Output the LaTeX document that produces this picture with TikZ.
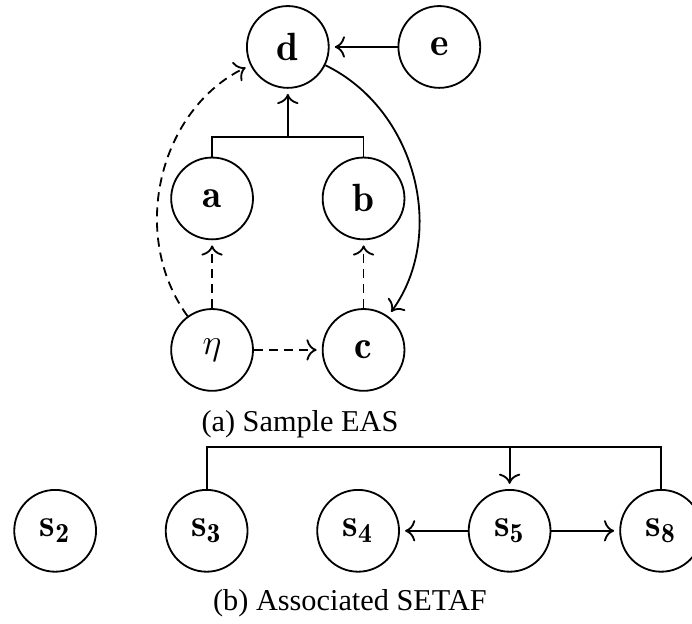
\documentclass[tikz,border=0pt]{standalone}
\usepackage{amsmath}
\usepackage{fontspec}
\newfontfamily\capfont{Liberation Serif}
\usetikzlibrary{arrows.meta,positioning}
\tikzset{
  argnode/.style={circle, draw=black, line width=0.6pt, minimum size=27pt,
    inner sep=0pt, font=\fontsize{13}{15}\selectfont},
  attarrow/.style={-{To[scale=1.15]}, line width=0.6pt, shorten >=1.7pt},
  supparrow/.style={attarrow, dash pattern=on 3pt off 2pt},
  joinline/.style={line width=0.6pt},
  subcaption/.style={font=\capfont\normalsize, inner sep=0pt}
}

\begin{document}
\begin{tikzpicture}[node distance=50pt, on grid]
  \useasboundingbox (0,0) rectangle (228.4pt,-205.9pt);
  % (a) Sample EAS
  \node[argnode] (d) at (95pt,-15.5pt) {$\mathbf{d}$};
  \node[argnode, right=of d] (e) {$\mathbf{e}$};
  \node[argnode, below left=50pt and 25pt of d] (a) {$\mathbf{a}$};
  \node[argnode, below right=50pt and 25pt of d] (b) {$\mathbf{b}$};
  \node[argnode, below=of a] (eta) {$\eta$};
  \node[argnode, below=of b] (c) {$\mathbf{c}$};
  \coordinate[below=29.7pt of d] (jab);
  \draw[attarrow] (e) -- (d);
  \draw[joinline] (a) |- (jab) -| (b);
  \draw[attarrow] (jab) -- (d);
  \draw[supparrow] (eta) -- (a);
  \draw[supparrow] (c) -- (b);
  \draw[supparrow] (eta) -- (c);
  \draw[supparrow] (eta) to[bend left=50] (d);
  \draw[attarrow] (d) to[bend left=50] (c);
  \node[subcaption] (capa) at (99pt,-140pt) {(a) Sample EAS};
  % (b) Associated SETAF
  \node[argnode] (s2) at (18.2pt,-175.2pt) {$\mathbf{s_2}$};
  \node[argnode, right=of s2] (s3) {$\mathbf{s_3}$};
  \node[argnode, right=of s3] (s4) {$\mathbf{s_4}$};
  \node[argnode, right=of s4] (s5) {$\mathbf{s_5}$};
  \node[argnode, right=of s5] (s8) {$\mathbf{s_8}$};
  \coordinate[above=27.7pt of s5] (j38);
  \draw[joinline] (s3) |- (j38) -| (s8);
  \draw[attarrow] (j38) -- (s5);
  \draw[attarrow] (s5) -- (s4);
  \draw[attarrow] (s5) -- (s8);
  \node[subcaption] (capb) at (115.5pt,-199pt) {(b) Associated SETAF};
\end{tikzpicture}
\end{document}
